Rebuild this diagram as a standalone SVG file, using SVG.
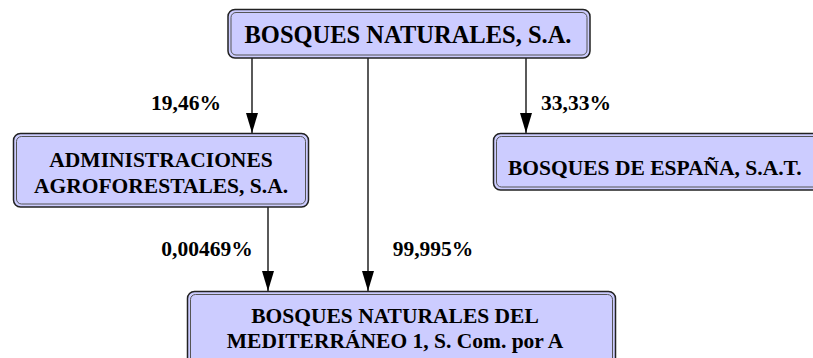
<svg xmlns="http://www.w3.org/2000/svg" width="813" height="358" viewBox="0 0 813 358">
<defs>
<style>
.outer{fill:#ccccff;stroke:#222;stroke-width:1.5}
.inner{fill:none;stroke:#555;stroke-width:1}
.t{font-family:"Liberation Serif","Times New Roman",serif;font-weight:bold;font-size:21.5px;fill:#000;text-anchor:middle}
.c{stroke:#000;stroke-width:1.3;fill:none}
</style>
<marker id="a" markerWidth="20" markerHeight="12" refX="20" refY="6" orient="auto" markerUnits="userSpaceOnUse" viewBox="0 0 20 12">
<path d="M0,0 L20,6 L0,12 Z" fill="#000"/>
</marker>
</defs>
<g id="connectors">
<line class="c" x1="252" y1="58" x2="252" y2="133" marker-end="url(#a)"/>
<line class="c" x1="526" y1="58" x2="526" y2="133" marker-end="url(#a)"/>
<line class="c" x1="368" y1="58" x2="368" y2="291" marker-end="url(#a)"/>
<line class="c" x1="268" y1="207" x2="268" y2="291" marker-end="url(#a)"/>
<text class="t" x="186" y="110">19,46%</text>
<text class="t" x="576" y="110">33,33%</text>
<text class="t" x="207" y="256">0,00469%</text>
<text class="t" x="433" y="256">99,995%</text>
</g>
<g id="n1">
<rect class="outer" x="228" y="9.5" width="362" height="48.5" rx="7"/>
<rect class="inner" x="231" y="12.5" width="356" height="42.5" rx="5"/>
<text class="t" x="408" y="42.5" style="font-size:24.5px">BOSQUES NATURALES, S.A.</text>
</g>
<g id="n2">
<rect class="outer" x="13.5" y="133.5" width="295" height="73.5" rx="7"/>
<rect class="inner" x="16.5" y="136.5" width="289" height="67.5" rx="5"/>
<text class="t" x="161" y="167">ADMINISTRACIONES</text>
<text class="t" x="161" y="193">AGROFORESTALES, S.A.</text>
</g>
<g id="n3">
<rect class="outer" x="493.5" y="133.5" width="330" height="56.5" rx="7"/>
<rect class="inner" x="496.5" y="136.5" width="324" height="50.5" rx="5"/>
<text class="t" x="508" y="175" style="text-anchor:start">BOSQUES DE ESPAÑA, S.A.T.</text>
</g>
<g id="n4">
<rect class="outer" x="187.5" y="291.5" width="428" height="80" rx="7"/>
<rect class="inner" x="190.5" y="294.5" width="422" height="74" rx="5"/>
<text class="t" x="395" y="323">BOSQUES NATURALES DEL</text>
<text class="t" x="395" y="348">MEDITERRÁNEO 1, S. Com. por A</text>
</g>
</svg>
